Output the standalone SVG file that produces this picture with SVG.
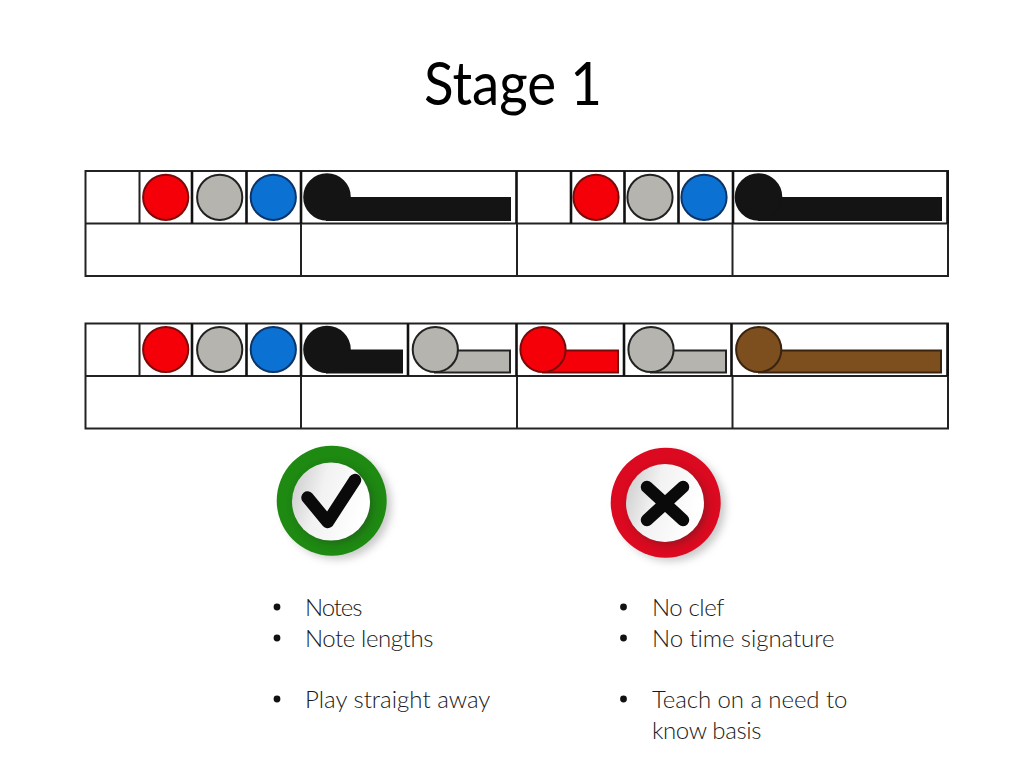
<svg xmlns="http://www.w3.org/2000/svg" width="1024" height="768" viewBox="0 0 1024 768">
<defs>
<style>
.g{fill:none;stroke:#222;stroke-width:2}
.gt{fill:none;stroke:#111;stroke-width:2.6}
.t{font-family:"Lato","Liberation Sans",sans-serif;font-weight:300;font-size:24px;fill:#1a1a1a;letter-spacing:.6px}
.b{fill:#111}
.red{fill:#f50008;stroke:#7a0a0a;stroke-width:2}
.gry{fill:#b5b4ae;stroke:#222;stroke-width:2}
.blu{fill:#0b72d4;stroke:#0c3468;stroke-width:2}
.blk{fill:#141414;stroke:#141414;stroke-width:2}
.brn{fill:#7d4f1e;stroke:#3a2410;stroke-width:2}
</style>
<linearGradient id="face" x1="0" y1="0" x2="1" y2="0.3"><stop offset="0" stop-color="#c8c8c8"/><stop offset=".45" stop-color="#f2f2f2"/><stop offset="1" stop-color="#ffffff"/></linearGradient>
<filter id="sh" x="-30%" y="-30%" width="170%" height="170%"><feGaussianBlur stdDeviation="4"/></filter>
</defs>
<rect width="1024" height="768" fill="#fff"/>
<text id="title" x="424" y="105" textLength="178" lengthAdjust="spacingAndGlyphs" style="font-family:'Lato','Liberation Sans',sans-serif;font-size:60px;font-weight:400;fill:#000">Stage 1</text>

<g id="staff1">
<rect class="g" x="85.5" y="171" width="862.5" height="105"/>
<path class="g" d="M85.5 223.5H948M301 223.5V276M517 223.5V276M732.5 223.5V276M139.5 171V223.5"/>
<path class="gt" d="M192 171V223.5M246.5 171V223.5M301 171V223.5M516.5 171V223.5M571 171V223.5M624.5 171V223.5M678.5 171V223.5M733 171V223.5M947.5 171V223.5"/>
<rect class="blk" x="327" y="198" width="183" height="22"/>
<circle class="red" cx="165.7" cy="197.3" r="22.6"/><circle class="gry" cx="219.7" cy="197.3" r="22.6"/><circle class="blu" cx="273.3" cy="197.3" r="22.6"/><circle class="blk" cx="327" cy="197" r="22.8"/>
<rect class="blk" x="759" y="198" width="182" height="22"/>
<circle class="red" cx="596" cy="197.3" r="22.6"/><circle class="gry" cx="650" cy="197.3" r="22.6"/><circle class="blu" cx="704" cy="197.3" r="22.6"/><circle class="blk" cx="758.5" cy="197" r="22.8"/>
</g>

<g id="staff2">
<rect class="g" x="85.5" y="323.5" width="862.5" height="105"/>
<path class="g" d="M85.5 376H948M301 376V428.5M517 376V428.5M732.5 376V428.5M139.5 323.5V376"/>
<path class="gt" d="M192 323.5V376M246.5 323.5V376M301 323.5V376M408 323.5V376M516.5 323.5V376M624 323.5V376M731.5 323.5V376M947.5 323.5V376"/>
<circle class="red" cx="165.7" cy="349.5" r="22.6"/><circle class="gry" cx="219.7" cy="349.5" r="22.6"/><circle class="blu" cx="273.3" cy="349.5" r="22.6"/>
<rect class="blk" x="327" y="350.5" width="75" height="22"/><circle class="blk" cx="327" cy="349.5" r="22.8"/>
<rect class="gry" x="435" y="350.5" width="75" height="22"/><circle class="gry" cx="435.3" cy="349.5" r="22.6"/>
<rect class="red" x="543" y="350.5" width="75" height="22"/><circle class="red" cx="543" cy="349.5" r="22.6"/>
<rect class="gry" x="651" y="350.5" width="75" height="22"/><circle class="gry" cx="651" cy="349.5" r="22.6"/>
<rect class="brn" x="759" y="350.5" width="182" height="22"/><circle class="brn" cx="758.7" cy="349.5" r="22.6"/>
</g>

<g id="tick">
<circle cx="337" cy="505" r="54" fill="#999" opacity=".55" filter="url(#sh)"/>
<circle cx="331.7" cy="500.7" r="55" fill="#1e8a12"/>
<circle cx="334" cy="504" r="39" fill="#222" opacity=".35" filter="url(#sh)"/>
<circle cx="331" cy="501.6" r="39" fill="url(#face)"/>
<path d="M307.5 497.5L327.7 522L355 480" fill="none" stroke="#0a0a0a" stroke-width="12.5" stroke-linecap="round" stroke-linejoin="round"/>
</g>

<g id="cross">
<circle cx="671" cy="507" r="54" fill="#999" opacity=".55" filter="url(#sh)"/>
<circle cx="665.7" cy="502.7" r="55" fill="#dc0a20"/>
<circle cx="668" cy="506" r="39" fill="#222" opacity=".35" filter="url(#sh)"/>
<circle cx="665" cy="503" r="39" fill="url(#face)"/>
<path d="M647 487L683 520M683 487L647 520" fill="none" stroke="#0a0a0a" stroke-width="12.5" stroke-linecap="round"/>
</g>

<g id="list-left">
<circle class="b" cx="277" cy="607" r="3.4"/><circle class="b" cx="277" cy="638" r="3.4"/><circle class="b" cx="277" cy="699" r="3.4"/>
<text class="t" x="305" y="616" textLength="58">Notes</text>
<text class="t" x="305" y="647" textLength="129">Note lengths</text>
<text class="t" x="305" y="708" textLength="186">Play straight away</text>
</g>
<g id="list-right">
<circle class="b" cx="623.5" cy="607" r="3.4"/><circle class="b" cx="623.5" cy="638" r="3.4"/><circle class="b" cx="623.5" cy="699" r="3.4"/>
<text class="t" x="652" y="616" textLength="73">No clef</text>
<text class="t" x="652" y="647" textLength="183">No time signature</text>
<text class="t" x="652" y="708" textLength="196">Teach on a need to</text>
<text class="t" x="652" y="739" textLength="110">know basis</text>
</g>
</svg>
